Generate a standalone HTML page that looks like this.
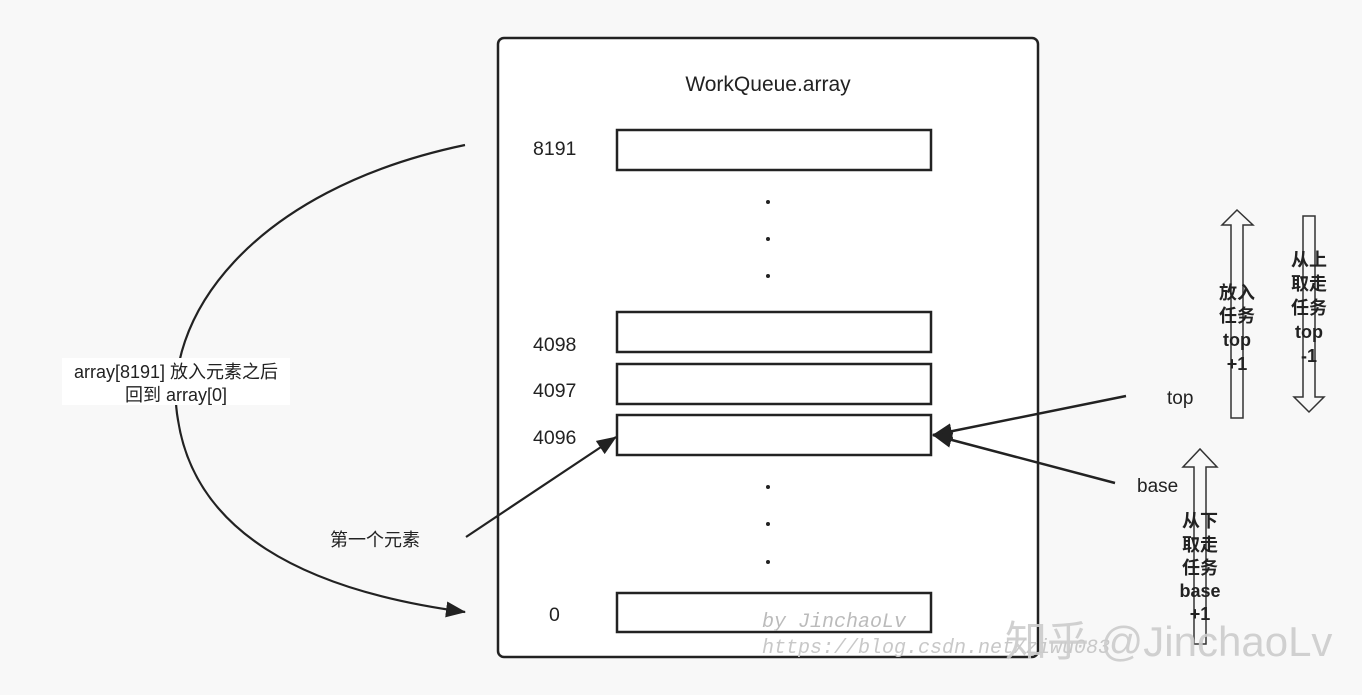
<!DOCTYPE html>
<html><head><meta charset="utf-8"><style>
html,body{margin:0;padding:0;background:#f8f8f8;}
svg{display:block}
text{font-family:"Liberation Sans","Noto Sans CJK SC",sans-serif;fill:#222}
.b{font-weight:bold;font-size:18px;fill:#333}
</style></head><body>
<svg width="1362" height="695" viewBox="0 0 1362 695">
<defs><marker id="ah" markerWidth="20" markerHeight="16" refX="19" refY="8" orient="auto" markerUnits="userSpaceOnUse"><path d="M0,0 L20,8 L0,16 Z" fill="#222"/></marker></defs>
<rect x="0" y="0" width="1362" height="695" fill="#f8f8f8"/>
<rect x="498" y="38" width="540" height="619" rx="6" fill="#fff" stroke="#222" stroke-width="2.5"/>
<text x="768" y="91" font-size="21" text-anchor="middle">WorkQueue.array</text>
<g fill="#fff" stroke="#222" stroke-width="2.5">
<rect x="617" y="130" width="314" height="40"/>
<rect x="617" y="312" width="314" height="40"/>
<rect x="617" y="364" width="314" height="40"/>
<rect x="617" y="415" width="314" height="40"/>
<rect x="617" y="593" width="314" height="39"/>
</g>
<g font-size="19.5">
<text x="533" y="155">8191</text>
<text x="533" y="351">4098</text>
<text x="533" y="397">4097</text>
<text x="533" y="444">4096</text>
<text x="549" y="621">0</text>
</g>
<g fill="#222">
<circle cx="768" cy="202" r="2"/><circle cx="768" cy="239" r="2"/><circle cx="768" cy="276" r="2"/>
<circle cx="768" cy="487" r="2"/><circle cx="768" cy="524" r="2"/><circle cx="768" cy="562" r="2"/>
</g>
<path d="M465,145 C250,190 160,320 178,420 C195,530 300,590 465,612" fill="none" stroke="#222" stroke-width="2.2" marker-end="url(#ah)"/>
<rect x="62" y="358" width="228" height="47" fill="#fff"/>
<text x="176" y="378" font-size="18" text-anchor="middle">array[8191] 放入元素之后</text>
<text x="176" y="401" font-size="18" text-anchor="middle">回到 array[0]</text>
<text x="375" y="546" font-size="18" text-anchor="middle">第一个元素</text>
<line x1="466" y1="537" x2="616" y2="437" stroke="#222" stroke-width="2.2" marker-end="url(#ah)"/>
<line x1="1126" y1="396" x2="933" y2="435" stroke="#222" stroke-width="2.5" marker-end="url(#ah)"/>
<line x1="1115" y1="483" x2="933" y2="435" stroke="#222" stroke-width="2.5" marker-end="url(#ah)"/>
<text x="1167" y="404" font-size="19">top</text>
<text x="1137" y="492" font-size="19">base</text>
<g fill="none" stroke="#333" stroke-width="1.5">
<path d="M1231,418 L1231,225 L1222,225 L1237,210 L1253,225 L1243,225 L1243,418 Z"/>
<path d="M1303,216 L1303,397 L1294,397 L1309,412 L1324,397 L1315,397 L1315,216 Z"/>
<path d="M1194,644 L1194,467 L1183,467 L1200,449 L1217,467 L1206,467 L1206,644 Z"/>
</g>
<g class="b" text-anchor="middle">
<text x="1237" y="299">放入</text><text x="1237" y="322">任务</text><text x="1237" y="346">top</text><text x="1237" y="370">+1</text>
<text x="1309" y="266">从上</text><text x="1309" y="290">取走</text><text x="1309" y="314">任务</text><text x="1309" y="338">top</text><text x="1309" y="362">-1</text>
<text x="1200" y="527">从下</text><text x="1200" y="551">取走</text><text x="1200" y="574">任务</text><text x="1200" y="597">base</text><text x="1200" y="620">+1</text>
</g>
<text x="762" y="627" font-size="20" font-style="italic" style="font-family:'Liberation Mono',monospace;fill:#bbb">by JinchaoLv</text>
<text x="762" y="653" font-size="20" font-style="italic" style="font-family:'Liberation Mono',monospace;fill:#c8c8c8">https://blog.csdn.net/ziwu083</text>
<text x="1005" y="656" font-size="42" style="fill:#ccc;opacity:.9">知乎 @JinchaoLv</text>
</svg>
</body></html>
